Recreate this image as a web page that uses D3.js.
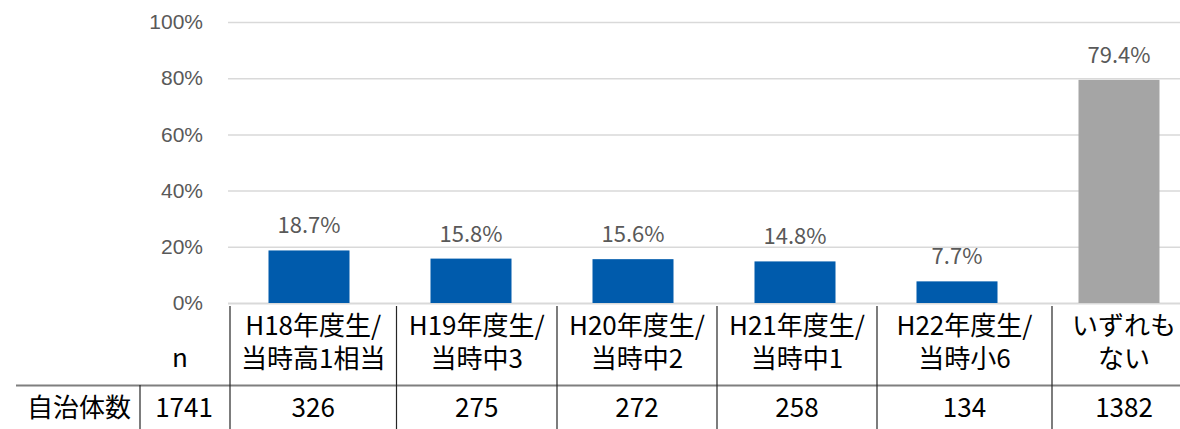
<!DOCTYPE html>
<html>
<head>
<meta charset="utf-8">
<script src="https://cdn.jsdelivr.net/npm/d3@7"></script>
<style>
  html, body { margin: 0; padding: 0; background: #fff; }
  svg { display: block; font-family: "Noto Sans CJK JP", "Noto Sans", sans-serif; }
</style>
</head>
<body>
<div id="chart"></div>
<script>
// chart values
const categories = ["H18", "H19", "H20", "H21", "H22", "none"];
const headerLines = [
    ["H18年度生/", "当時高1相当"],
    ["H19年度生/", "当時中3"],
    ["H20年度生/", "当時中2"],
    ["H21年度生/", "当時中1"],
    ["H22年度生/", "当時小6"],
    ["いずれも", "ない"]
];
const shares = [18.7, 15.8, 15.6, 14.8, 7.7, 79.4];
const counts = [326, 275, 272, 258, 134, 1382];
const totalLabel = "n";
const rowLabel = "自治体数";
const totalN = 1741;
const yTicks = [0, 20, 40, 60, 80, 100];

const width = 1180;
const height = 429;

// table column edges (separate table object in the original, not aligned to the plot)
const colEdges = [230, 396.5, 557, 717, 877, 1052, 1196];

const svg = d3.select('#chart').append('svg')
    .attr('width', width)
    .attr('height', height);

const x = d3.scaleBand()
    .domain(categories)
    .range([228, 1200])
    .paddingInner(0.5)
    .paddingOuter(0.25);

const y = d3.scaleLinear()
    .domain([0, 100])
    .range([303, 22]);

// gridlines + tick labels
const yAxis = d3.axisLeft(y)
    .tickValues(yTicks)
    .tickSize(-(width - 228))
    .tickPadding(25)
    .tickFormat(d => d + '%');

const gy = svg.append('g')
    .attr('transform', 'translate(228,0)')
    .call(yAxis);
gy.select('.domain').remove();
gy.selectAll('.tick line')
    .attr('stroke', '#d9d9d9')
    .attr('stroke-width', d => d === 0 ? 2 : 1.5);
gy.selectAll('.tick text')
    .attr('fill', '#595959')
    .attr('font-size', 21);

// bars
svg.append('g').selectAll('rect')
    .data(categories)
    .join('rect')
    .attr('x', d => x(d))
    .attr('width', x.bandwidth())
    .attr('y', (d, i) => y(shares[i]))
    .attr('height', (d, i) => y(0) - y(shares[i]))
    .attr('fill', (d, i) => i === categories.length - 1 ? '#a5a5a5' : '#005bac');

// data labels
svg.append('g').selectAll('text')
    .data(categories)
    .join('text')
    .attr('x', d => x(d) + x.bandwidth() / 2)
    .attr('y', (d, i) => y(shares[i]) - 17)
    .attr('text-anchor', 'middle')
    .attr('fill', '#595959')
    .attr('font-size', 22)
    .text((d, i) => shares[i].toFixed(1) + '%');

// table
const table = svg.append('g');

table.append('line')
    .attr('x1', 16).attr('x2', width)
    .attr('y1', 385.5).attr('y2', 385.5)
    .attr('stroke', '#7f7f7f')
    .attr('stroke-width', 2);

table.selectAll('line.col')
    .data(colEdges.slice(0, -1))
    .join('line')
    .attr('class', 'col')
    .attr('x1', d => d).attr('x2', d => d)
    .attr('y1', 306).attr('y2', height)
    .attr('stroke', '#262626')
    .attr('stroke-width', 1.2);

table.append('line')
    .attr('x1', 140).attr('x2', 140)
    .attr('y1', 385).attr('y2', height)
    .attr('stroke', '#262626')
    .attr('stroke-width', 1.2);

const colMid = i => (colEdges[i] + colEdges[i + 1]) / 2;

table.selectAll('text.head')
    .data(headerLines)
    .join('text')
    .attr('class', 'head')
    .attr('text-anchor', 'middle')
    .attr('font-size', 26)
    .attr('fill', '#000')
    .each(function (lines, i) {
        d3.select(this).selectAll('tspan')
            .data(lines)
            .join('tspan')
            .attr('x', colMid(i))
            .attr('y', (l, j) => 335 + j * 33)
            .text(l => l);
    });

table.selectAll('text.count')
    .data(counts)
    .join('text')
    .attr('class', 'count')
    .attr('x', (d, i) => colMid(i))
    .attr('y', 417)
    .attr('text-anchor', 'middle')
    .attr('font-size', 26)
    .attr('fill', '#000')
    .text(d => d);

table.append('text')
    .attr('x', 180).attr('y', 367)
    .attr('text-anchor', 'middle')
    .attr('font-size', 26)
    .text(totalLabel);

table.append('text')
    .attr('x', 184).attr('y', 417)
    .attr('text-anchor', 'middle')
    .attr('font-size', 26)
    .text(totalN);

table.append('text')
    .attr('x', 79).attr('y', 417)
    .attr('text-anchor', 'middle')
    .attr('font-size', 26)
    .text(rowLabel);
</script>
</body>
</html>
